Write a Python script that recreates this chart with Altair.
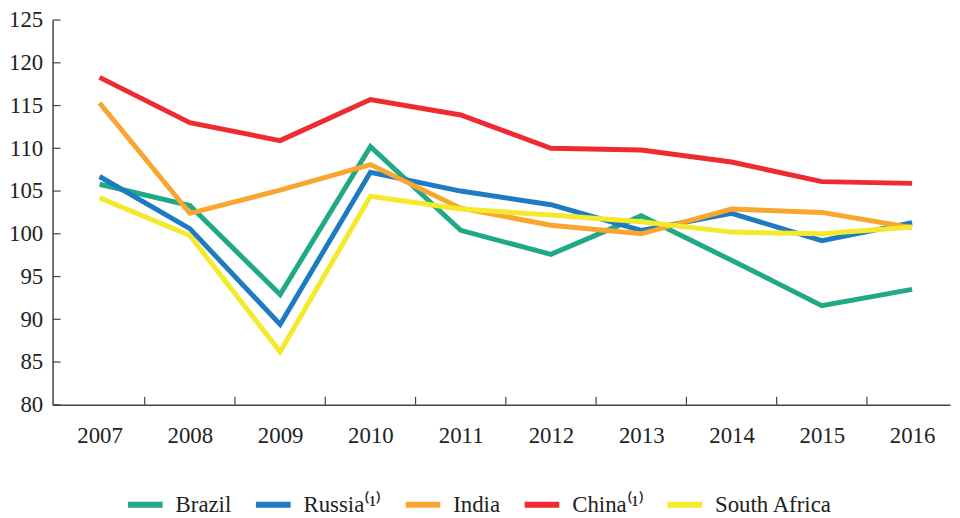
import altair as alt
import pandas as pd

years = [2007, 2008, 2009, 2010, 2011, 2012, 2013, 2014, 2015, 2016]
series_names = ["Brazil", "Russia⁽¹⁾", "India", "China⁽¹⁾", "South Africa"]
brazil = [105.8, 103.3, 92.9, 110.2, 100.4, 97.6, 102.1, 96.9, 91.6, 93.5]
russia = [106.7, 100.6, 89.4, 107.2, 105.0, 103.4, 100.4, 102.4, 99.2, 101.3]
india = [115.3, 102.4, 105.1, 108.1, 103.0, 101.0, 100.0, 102.9, 102.5, 100.7]
china = [118.3, 113.0, 110.9, 115.7, 113.9, 110.0, 109.8, 108.4, 106.1, 105.9]
south_africa = [104.2, 99.8, 86.2, 104.4, 102.9, 102.2, 101.4, 100.2, 100.0, 100.8]
colors = ["#1fa984", "#1f7bc1", "#f9a630", "#ed2b30", "#f5e92c"]
y_ticks = [80, 85, 90, 95, 100, 105, 110, 115, 120, 125]

rows = []
for name, vals in zip(series_names, [brazil, russia, india, china, south_africa]):
    for yr, v in zip(years, vals):
        rows.append({"year": yr, "value": v, "series": name, "order": series_names.index(name)})
df = pd.DataFrame(rows)

boundaries = pd.DataFrame({"b": [y + 0.5 for y in years[:-1]]})
yt = pd.DataFrame({"t": y_ticks})

FONT = "Times New Roman, Liberation Serif, Times, serif"
xscale = alt.Scale(domain=[2006.48, 2016.42], nice=False, zero=False)
yscale = alt.Scale(domain=[80, 125], nice=False, zero=False)

lines = alt.Chart(df).mark_line(strokeWidth=5, strokeJoin="miter", strokeCap="butt").encode(
    x=alt.X("year:Q", scale=xscale,
            axis=alt.Axis(values=years, format="d", title=None, grid=False, tickSize=0,
                          labelPadding=20, labelFontSize=23, labelFont=FONT, labelColor="#222",
                          domainColor="#444", domainWidth=1.5, labelFlush=False)),
    y=alt.Y("value:Q", scale=yscale,
            axis=alt.Axis(values=y_ticks, title=None, grid=False, tickSize=0,
                          labelPadding=10, labelFontSize=23, labelFont=FONT, labelColor="#222",
                          domainColor="#444", domainWidth=1.5)),
    color=alt.Color("series:N", scale=alt.Scale(domain=series_names, range=colors),
                    legend=alt.Legend(title=None, orient="none", legendX=73, legendY=468,
                                      direction="horizontal", symbolType="stroke",
                                      symbolStrokeWidth=6, symbolSize=1225,
                                      labelFont=FONT, labelFontSize=23, labelColor="#222",
                                      columnPadding=12, labelOffset=10)),
    order=alt.Order("order:Q"),
    detail="series:N",
)

xticks = alt.Chart(boundaries).mark_rule(color="#444", strokeWidth=1.2).encode(
    x=alt.X("b:Q", scale=xscale), y=alt.value(380), y2=alt.value(388)
)
yticks = alt.Chart(yt).mark_rule(color="#444", strokeWidth=1.2).encode(
    y=alt.Y("t:Q", scale=yscale), x=alt.value(0), x2=alt.value(8)
)

chart = alt.layer(xticks, yticks, lines).properties(
    width=905, height=388,
    autosize=alt.AutoSizeParams(type="none"),
    padding={"left": 45, "top": 10, "right": 2, "bottom": 112},
).configure_view(stroke=None)

chart.save("out.html", embed_options={"renderer": "svg", "actions": False})
